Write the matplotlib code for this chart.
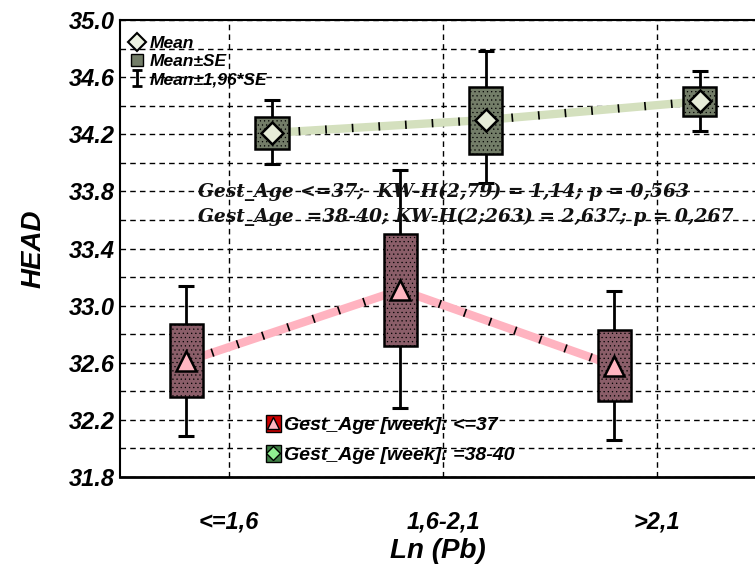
import matplotlib
matplotlib.use("Agg")
import matplotlib.pyplot as plt
from matplotlib.lines import Line2D
from matplotlib.patches import Rectangle
from matplotlib.path import Path
from matplotlib.legend_handler import HandlerTuple
import numpy as np

categories = ["<=1,6", "1,6-2,1", ">2,1"]

# Gest_Age <=37 (red)
red_mean = [32.61, 33.11, 32.58]
red_se_lo = [32.36, 32.72, 32.33]
red_se_hi = [32.87, 33.50, 32.83]
red_ci_lo = [32.09, 32.28, 32.06]
red_ci_hi = [33.14, 33.95, 33.10]

# Gest_Age 38-40 (green)
grn_mean = [34.21, 34.30, 34.43]
grn_se_lo = [34.10, 34.06, 34.33]
grn_se_hi = [34.32, 34.53, 34.53]
grn_ci_lo = [33.99, 33.86, 34.22]
grn_ci_hi = [34.44, 34.78, 34.64]

yticks = [31.8, 32.2, 32.6, 33.0, 33.4, 33.8, 34.2, 34.6, 35.0]
ann1 = "Gest_Age <=37;  KW-H(2,79) = 1,14; p = 0,563"
ann2 = "Gest_Age  =38-40; KW-H(2;263) = 2,637; p = 0,267"

SANS = "Liberation Sans"
SERIF = "DejaVu Serif"

plt.rcParams["hatch.color"] = "#f2e4e6"
plt.rcParams["hatch.linewidth"] = 0.4

fig = plt.figure(figsize=(7.55, 5.69), dpi=100)
ax = fig.add_axes([120/755, 1-477/569, 1-120/755, (477-20)/569])

x = np.arange(len(categories))
off = 0.2
bw = 0.155
cap = 0.037

red_fill = "#8b5e69"
grn_fill = "#737d68"
red_line = "#ffb3c0"
grn_line = "#d4e0be"

def draw_group(xs, mean, slo, shi, clo, chi, fill, lcol, marker, mfc, ms, z):
    ax.plot(xs, mean, color=lcol, lw=6, solid_capstyle="butt", zorder=z)
    ax.plot(xs, mean, color="black", lw=6, dashes=(0.2, 3.0), zorder=z+0.1)
    for xi, m, a, b, c, d in zip(xs, mean, slo, shi, clo, chi):
        ax.vlines(xi, c, a, color="black", lw=2, zorder=z+1)
        ax.vlines(xi, b, d, color="black", lw=2, zorder=z+1)
        ax.hlines([c, d], xi-cap, xi+cap, color="black", lw=2.2, zorder=z+1)
        ax.add_patch(Rectangle((xi-bw/2, a), bw, b-a, facecolor=fill,
                               edgecolor="black", lw=1.8, zorder=z+2,
                               hatch="...."))
    ax.plot(xs, mean, ls="none", marker=marker, ms=ms,
            mfc=mfc, mec="black", mew=1.8, zorder=z+3)

draw_group(x - off, red_mean, red_se_lo, red_se_hi, red_ci_lo, red_ci_hi,
           red_fill, red_line, "^", "#ffb6c1", 15, 3)
draw_group(x + off, grn_mean, grn_se_lo, grn_se_hi, grn_ci_lo, grn_ci_hi,
           grn_fill, grn_line, "D", "#e6ecd8", 11.5, 3)

ax.set_xlim(-0.5105, 2.459)
ax.set_ylim(31.8, 35.0)
ax.set_yticks(yticks)
ax.set_yticklabels([f"{v:.1f}" for v in yticks])
ax.set_yticks(np.arange(31.8, 35.01, 0.2), minor=True)
ax.set_xticks(x)
ax.set_xticklabels(categories)
ax.tick_params(axis="both", length=0, which="both")
ax.tick_params(axis="y", pad=4)
ax.tick_params(axis="x", pad=24)
for lab in ax.get_yticklabels() + ax.get_xticklabels():
    lab.set_fontfamily(SANS)
    lab.set_fontweight("bold")
    lab.set_fontstyle("italic")
    lab.set_fontsize(17)

ax.grid(True, which="minor", axis="y", color="black", lw=1, ls=(0, (4, 3)))
ax.grid(True, which="major", axis="y", color="black", lw=1, ls=(0, (4, 3)))
ax.grid(True, which="major", axis="x", color="black", lw=1, ls=(0, (4, 3)))
ax.set_axisbelow(True)

ax.spines["right"].set_visible(False)
ax.spines["left"].set_linewidth(1.5)
ax.spines["top"].set_linewidth(1.5)
ax.spines["bottom"].set_linewidth(2.0)

ax.set_ylabel("HEAD", fontfamily=SANS, fontweight="bold", fontstyle="italic",
              fontsize=20, labelpad=16)
ax.set_xlabel("Ln (Pb)", fontfamily=SANS, fontweight="bold", fontstyle="italic",
              fontsize=20, labelpad=3)

ax.text(0.123, 0.624, ann1, transform=ax.transAxes, ha="left", va="center",
        fontfamily=SERIF, fontweight="bold", fontstyle="italic", fontsize=13.4,
        color="#111111", zorder=10)
ax.text(0.123, 0.569, ann2, transform=ax.transAxes, ha="left", va="center",
        fontfamily=SERIF, fontweight="bold", fontstyle="italic", fontsize=13.4,
        color="#111111", zorder=10)

# top-left legend
ibeam = Path([(-0.6, 1), (0.6, 1), (0, 1), (0, -1), (-0.6, -1), (0.6, -1)],
             [Path.MOVETO, Path.LINETO, Path.MOVETO, Path.LINETO, Path.MOVETO, Path.LINETO])
h_mean = Line2D([], [], ls="none", marker="D", ms=9, mfc="#eef3e2", mec="black", mew=1.5)
h_se = Line2D([], [], ls="none", marker="s", ms=9, mfc=grn_fill, mec="black", mew=1)
h_ci = Line2D([], [], ls="none", marker=ibeam, ms=11, mec="black", mew=2)
leg1 = ax.legend([h_mean, h_se, h_ci], ["Mean", "Mean±SE", "Mean±1,96*SE"],
                 loc="upper left", bbox_to_anchor=(-0.003, 0.992), frameon=False,
                 handlelength=0.8, handletextpad=0.3, labelspacing=0.18,
                 borderaxespad=0.3,
                 prop=dict(family=SANS, weight="bold", style="italic", size=12.5))
ax.add_artist(leg1)

# bottom legend
h_red = (Rectangle((0, 0), 1, 1, facecolor="#cc0000", edgecolor="black"),
         Line2D([], [], ls="none", marker="^", ms=8, mfc="#ffb6c1", mec="black"))
h_grn = (Rectangle((0, 0), 1, 1, facecolor="#3f7f45", edgecolor="black"),
         Line2D([], [], ls="none", marker="D", ms=7, mfc="#90ee90", mec="black"))
leg2 = ax.legend([h_red, h_grn], ["Gest_Age [week]: <=37", "Gest_Age [week]: =38-40"],
                 handler_map={tuple: HandlerTuple(ndivide=1, pad=0)},
                 loc="lower left", bbox_to_anchor=(0.21, 0.0), frameon=False,
                 handlelength=0.75, handleheight=1.0, handletextpad=0.2,
                 labelspacing=0.55, borderaxespad=0.25,
                 prop=dict(family=SANS, weight="bold", style="italic", size=14))

fig.savefig("out.png", dpi=100)
